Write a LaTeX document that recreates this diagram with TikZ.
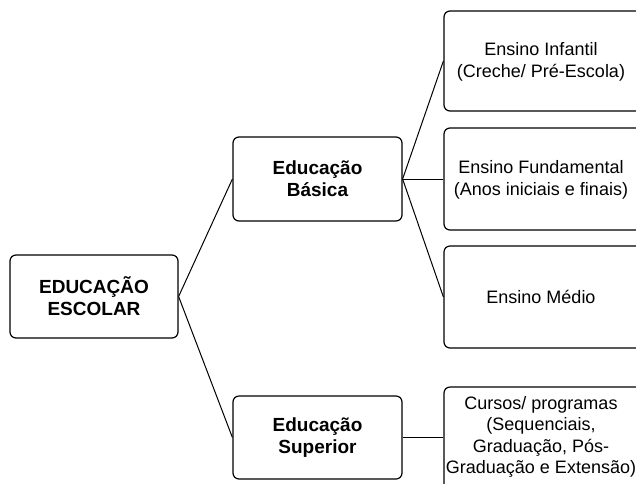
\documentclass[tikz,border=0pt]{standalone}
\usepackage{fontspec}
\setmainfont{Liberation Sans}
\begin{document}
\begin{tikzpicture}[x=1pt,y=-1pt,
  box/.style={draw=black,line width=1.2pt,rounded corners=6pt,fill=white,inner sep=0pt,align=center},
  bigtxt/.style={font=\fontsize{19}{22}\selectfont\bfseries},
  smalltxt/.style={font=\fontsize{18}{21.5}\selectfont,align=center,inner sep=0pt},
  link/.style={draw=black,line width=1pt}]
\useasboundingbox (0,0) rectangle (636,483);
\clip (0,0) rectangle (636,483);
\node[box,bigtxt,minimum width=168pt,minimum height=83pt] (root) at (94,296.5) {EDUCAÇÃO\\ESCOLAR};
\node[box,bigtxt,minimum width=169pt,minimum height=84pt] (bas) at (317.5,179) {Educação\\Básica};
\node[box,bigtxt,minimum width=169pt,minimum height=83pt] (sup) at (317.5,437.5) {Educação\\Superior};
\node[box,minimum width=200pt,minimum height=100pt] (inf) at (544,61) {};
\node[box,minimum width=200pt,minimum height=102pt] (fun) at (544,179) {};
\node[box,minimum width=200pt,minimum height=102pt] (med) at (544,297) {};
\node[box,minimum width=200pt,minimum height=108pt] (cur) at (544,441) {};
\node[smalltxt] (tinf) at (541,62) {Ensino Infantil\\(Creche/ Pré-Escola)};
\node[smalltxt] (tfun) at (541,180) {Ensino Fundamental\\(Anos iniciais e finais)};
\node[smalltxt] (tmed) at (541,297) {Ensino Médio};
\node[smalltxt] (tcur) at (541,437) {Cursos/ programas\\(Sequenciais,\\Graduação, Pós-\\Graduação e Extensão)};
\draw[link] (root.east) -- (bas.west);
\draw[link] (root.east) -- (sup.west);
\draw[link] (bas.east) -- (inf.west);
\draw[link] (bas.east) -- (fun.west);
\draw[link] (bas.east) -- (med.west);
\draw[link] (sup.east) -- (sup.east -| cur.west);
\end{tikzpicture}
\end{document}
